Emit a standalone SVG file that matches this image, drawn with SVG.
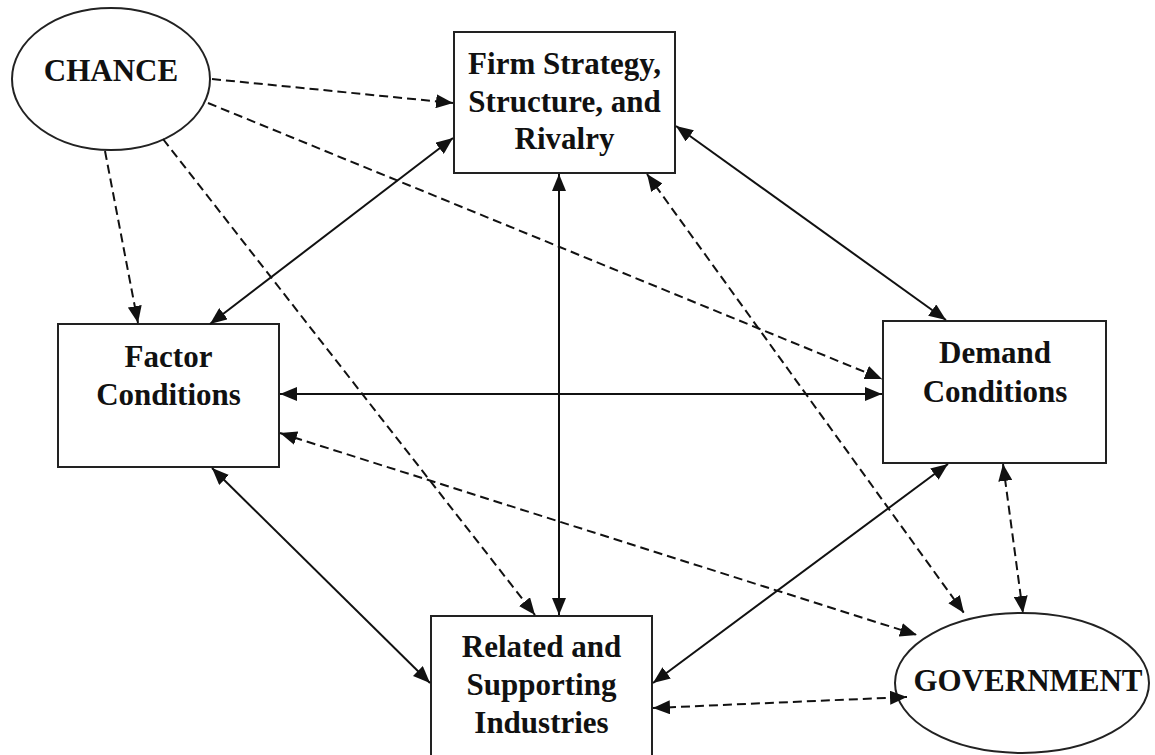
<svg xmlns="http://www.w3.org/2000/svg" width="1155" height="755" viewBox="0 0 1155 755">
<defs>
<marker id="ah" markerUnits="userSpaceOnUse" markerWidth="18" markerHeight="14" refX="17" refY="7" orient="auto-start-reverse">
<path d="M0,0 L17,7 L0,14 z" fill="#111" stroke="none"/>
</marker>
<style>
.node{fill:#fff;stroke:#222;stroke-width:2}
.lbl{font-family:"Liberation Serif","Times New Roman",serif;font-weight:bold;font-size:31px;fill:#111;text-anchor:middle}
.solid{fill:none;stroke:#111;stroke-width:2}
.dash{fill:none;stroke:#111;stroke-width:2;stroke-dasharray:9 5}
.one{marker-end:url(#ah)}
.two{marker-start:url(#ah);marker-end:url(#ah)}
</style>
</defs>
<rect width="1155" height="755" fill="#fff"/>
<g id="chance">
<ellipse class="node" cx="111" cy="79" rx="99" ry="71"/>
<text class="lbl" x="111" y="81">CHANCE</text>
</g>
<g id="firm">
<rect class="node" x="454" y="32" width="221" height="141"/>
<text class="lbl" x="564.5" y="74">Firm Strategy,</text>
<text class="lbl" x="564.5" y="111.5">Structure, and</text>
<text class="lbl" x="564.5" y="149">Rivalry</text>
</g>
<g id="factor">
<rect class="node" x="58" y="324" width="221" height="143"/>
<text class="lbl" x="168.5" y="367">Factor</text>
<text class="lbl" x="168.5" y="405">Conditions</text>
</g>
<g id="demand">
<rect class="node" x="883" y="321" width="223" height="142"/>
<text class="lbl" x="995" y="363">Demand</text>
<text class="lbl" x="995" y="402">Conditions</text>
</g>
<g id="related">
<rect class="node" x="431" y="616" width="221" height="160"/>
<text class="lbl" x="541.5" y="657">Related and</text>
<text class="lbl" x="541.5" y="695">Supporting</text>
<text class="lbl" x="541.5" y="733">Industries</text>
</g>
<g id="government">
<ellipse class="node" cx="1022" cy="683" rx="127" ry="70"/>
<text class="lbl" x="1028" y="691">GOVERNMENT</text>
</g>
<g id="connectors">
<line class="dash one" x1="212" y1="79" x2="453" y2="103"/>
<line class="dash one" x1="208" y1="103" x2="882" y2="379"/>
<line class="dash one" x1="105" y1="151" x2="138" y2="323"/>
<line class="dash one" x1="163" y1="139" x2="535" y2="615"/>
<line class="solid two" x1="453" y1="138" x2="210" y2="324"/>
<line class="solid two" x1="559" y1="174" x2="559" y2="615"/>
<line class="solid two" x1="676" y1="126" x2="946" y2="320"/>
<line class="dash two" x1="647" y1="174" x2="964" y2="613"/>
<line class="solid two" x1="280" y1="394" x2="882" y2="394"/>
<line class="dash two" x1="280" y1="433" x2="917" y2="635"/>
<line class="solid two" x1="212" y1="468" x2="430" y2="683"/>
<line class="solid two" x1="948" y1="464" x2="653" y2="683"/>
<line class="dash two" x1="1003" y1="464" x2="1023" y2="613"/>
<line class="dash two" x1="653" y1="708" x2="907" y2="697"/>
</g>
</svg>
